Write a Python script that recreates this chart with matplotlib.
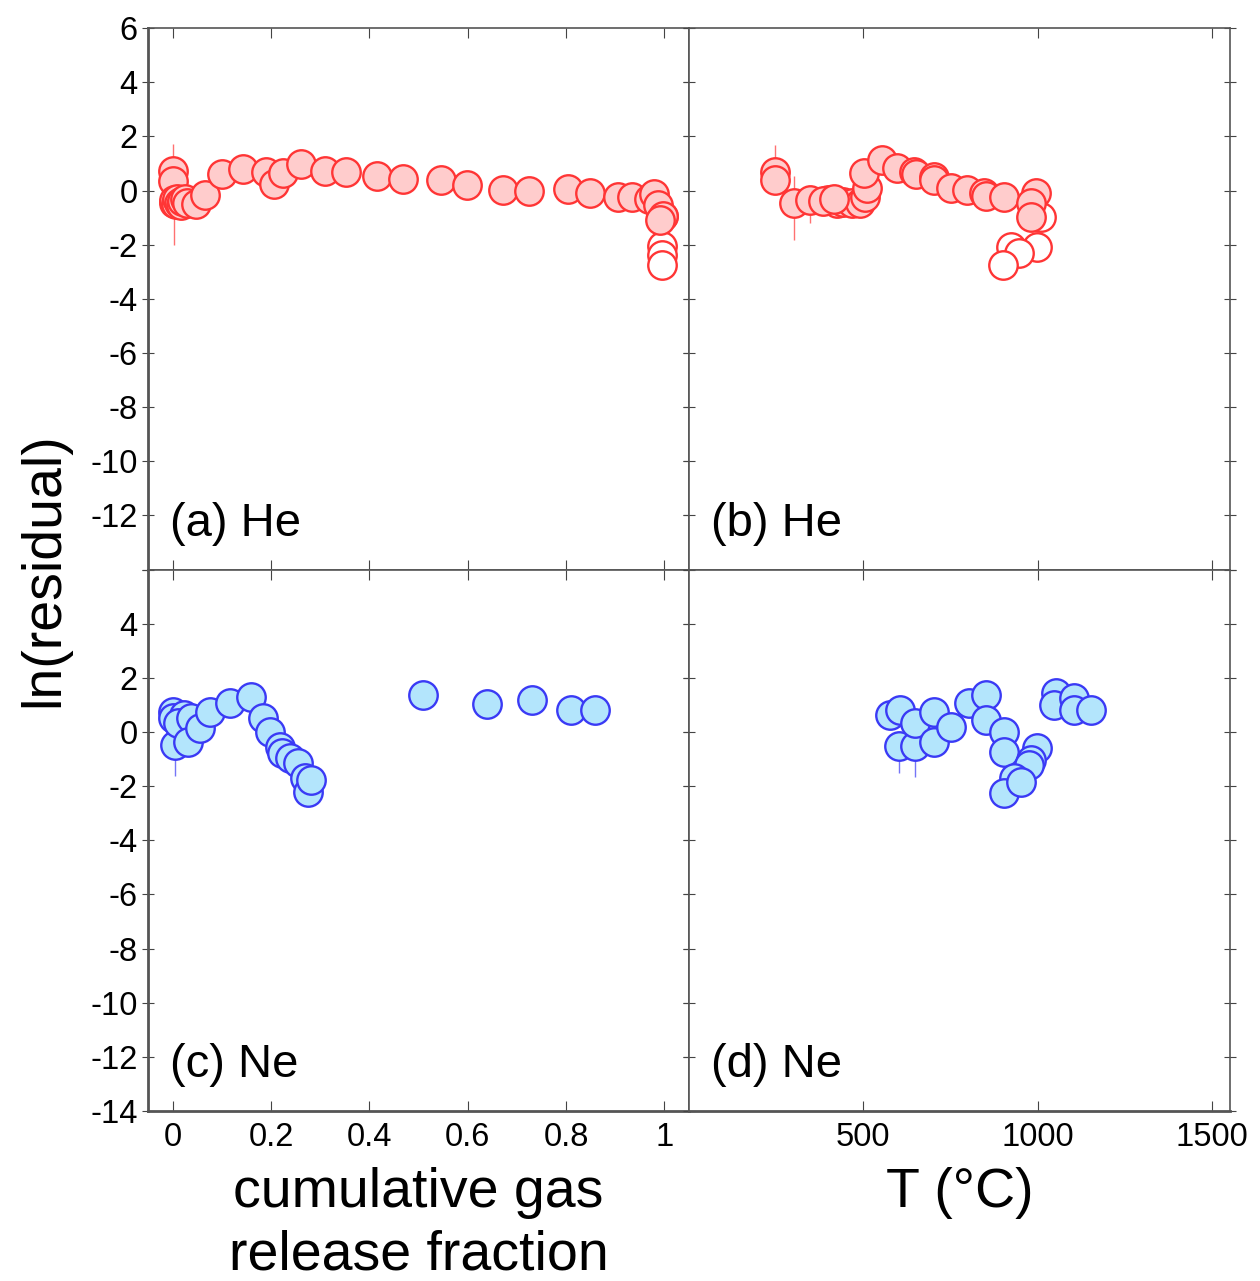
import numpy as np
from matplotlib import pyplot as plt

plt.rcParams['font.family'] = ['Liberation Sans', 'DejaVu Sans']
plt.rcParams['axes.unicode_minus'] = False

# (a) He vs cumulative release fraction
he_frac = [0.0, 0.0, 0.002, 0.003, 0.006, 0.009, 0.012, 0.016, 0.02, 0.025, 0.03,
           0.047, 0.065, 0.10, 0.144, 0.19, 0.206, 0.224, 0.262, 0.31, 0.352, 0.416,
           0.468, 0.545, 0.599, 0.671, 0.725, 0.804, 0.848, 0.906, 0.935, 0.969,
           0.98, 0.987, 0.998, 0.992]
he_frac_val = [0.74, 0.37, -0.47, -0.35, -0.5, -0.3, -0.45, -0.55, -0.4, -0.3, -0.45,
               -0.49, -0.18, 0.61, 0.80, 0.67, 0.25, 0.64, 0.98, 0.74, 0.67, 0.55,
               0.43, 0.39, 0.22, 0.04, -0.02, 0.06, -0.07, -0.25, -0.25, -0.31,
               -0.12, -0.55, -0.92, -1.10]
he_frac_lo = [0, 0, 1.55] + [0] * 33
he_frac_hi = [1.0, 0, 1.0] + [0] * 33
he_frac_open = [0.998, 0.996, 0.996, 0.996]
he_frac_open_val = [-0.94, -2.06, -2.39, -2.76]

# (b) He vs temperature
he_T = [247, 247, 300, 348, 400, 424, 443, 468, 491, 385, 415, 506, 511, 501, 554,
        597, 645, 650, 702, 702, 750, 798, 846, 850, 903, 994, 980, 980]
he_T_val = [0.70, 0.39, -0.47, -0.35, -0.35, -0.47, -0.41, -0.47, -0.47, -0.38, -0.30,
            -0.22, 0.08, 0.64, 1.13, 0.82, 0.70, 0.60, 0.51, 0.39, 0.08, 0.02, -0.10,
            -0.20, -0.22, -0.10, -0.47, -0.96]
he_T_lo = [0, 0, 1.35, 0.85] + [0] * 24
he_T_hi = [1.0, 0, 1.0, 0] + [0] * 24
he_T_open = [1009, 999, 922, 947, 899]
he_T_open_val = [-0.96, -2.07, -2.07, -2.31, -2.75]

# (c) Ne vs cumulative release fraction
ne_frac = [0.0, 0.0, 0.004, 0.024, 0.01, 0.038, 0.031, 0.055, 0.075, 0.116, 0.16,
           0.184, 0.198, 0.218, 0.222, 0.238, 0.255, 0.269, 0.276, 0.282,
           0.51, 0.64, 0.73, 0.81, 0.86]
ne_frac_val = [0.75, 0.5, -0.48, 0.63, 0.32, 0.5, -0.36, 0.14, 0.75, 1.06, 1.3,
               0.5, 0.01, -0.54, -0.79, -0.97, -1.16, -1.71, -2.2, -1.77,
               1.37, 1.02, 1.19, 0.80, 0.80]
ne_frac_lo = [0, 0, 1.15] + [0] * 22

# (d) Ne vs temperature
ne_T = [576, 606, 601, 649, 649, 702, 702, 750, 803, 851, 851, 903, 903, 999, 980,
        975, 932, 903, 951, 1052, 1047, 1104, 1104, 1152]
ne_T_val = [0.63, 0.81, -0.52, -0.52, 0.32, 0.75, -0.36, 0.2, 1.06, 1.37, 0.44, 0.01,
            -0.73, -0.6, -1.03, -1.2, -1.71, -2.27, -1.84, 1.43, 1.0, 1.25, 0.81, 0.81]
ne_T_lo = [0, 0, 1.0, 1.13] + [0] * 20

red_edge, red_fill = '#ff3535', '#ffcccc'
blue_edge, blue_fill = '#3a3af5', '#b3e5fc'
ms, mew = 20.5, 1.7

fig, axes = plt.subplots(2, 2, figsize=(12.6, 12.81), dpi=100)
fig.subplots_adjust(left=0.1175, right=0.976, top=0.978, bottom=0.1327,
                    hspace=0, wspace=0)
(ax_a, ax_b), (ax_c, ax_d) = axes


def draw(ax, x, y, lo, hi, edge, fill, xo=None, yo=None):
    ax.errorbar(x, y, yerr=[lo, hi], fmt='none', ecolor=edge, elinewidth=1.0,
                alpha=0.7, zorder=1)
    if xo is not None:
        ax.plot(xo, yo, 'o', ms=ms, mfc='white', mec=edge, mew=mew, zorder=2)
    ax.plot(x, y, 'o', ms=ms, mfc=fill, mec=edge, mew=mew, zorder=3)


draw(ax_a, he_frac, he_frac_val, he_frac_lo, he_frac_hi, red_edge, red_fill,
     he_frac_open, he_frac_open_val)
draw(ax_b, he_T, he_T_val, he_T_lo, he_T_hi, red_edge, red_fill,
     he_T_open, he_T_open_val)
draw(ax_c, ne_frac, ne_frac_val, ne_frac_lo, [0] * len(ne_frac), blue_edge, blue_fill)
draw(ax_d, ne_T, ne_T_val, ne_T_lo, [0] * len(ne_T), blue_edge, blue_fill)

for ax, lab in zip([ax_a, ax_b, ax_c, ax_d], ['(a) He', '(b) He', '(c) Ne', '(d) Ne']):
    ax.set_ylim(-14, 6)
    ax.set_yticks(np.arange(-14, 7, 2))
    ax.text(0.04, 0.085, lab, transform=ax.transAxes, fontsize=34, va='center')
    ax.tick_params(axis='y', direction='inout', length=9, left=True, right=True,
                   labelsize=23.5, color='#444444', pad=3)
    ax.tick_params(axis='x', direction='in', length=7, top=True, bottom=True,
                   labelsize=23.5, color='#444444', pad=8)
    for s in ax.spines.values():
        s.set_color('#555555')
        s.set_linewidth(1.2)

for ax in [ax_a, ax_c]:
    ax.set_xlim(-0.05, 1.05)
    ax.set_xticks([0, 0.2, 0.4, 0.6, 0.8, 1])
    ax.set_xticklabels(['0', '0.2', '0.4', '0.6', '0.8', '1'])
for ax in [ax_b, ax_d]:
    ax.set_xlim(0, 1550)
    ax.set_xticks([500, 1000, 1500])
    ax.tick_params(axis='y', labelleft=False)

ax_a.tick_params(axis='x', labelbottom=False)
ax_b.tick_params(axis='x', labelbottom=False)
ax_a.set_yticklabels(['' if v == -14 else str(v) for v in range(-14, 7, 2)])
ax_c.set_yticklabels(['' if v == 6 else str(v) for v in range(-14, 7, 2)])

ax_a.spines['left'].set_linewidth(2)
ax_c.spines['left'].set_linewidth(2)
ax_c.spines['bottom'].set_linewidth(2)
ax_d.spines['bottom'].set_linewidth(2)

fig.text(0.035, 0.555, 'ln(residual)', rotation=90, fontsize=40,
         ha='center', va='center')
ax_c.set_xlabel('cumulative gas\nrelease fraction', fontsize=40, linespacing=1.25,
                labelpad=10)
ax_d.set_xlabel('T (°C)', fontsize=40, labelpad=10)

plt.savefig('out.png')
